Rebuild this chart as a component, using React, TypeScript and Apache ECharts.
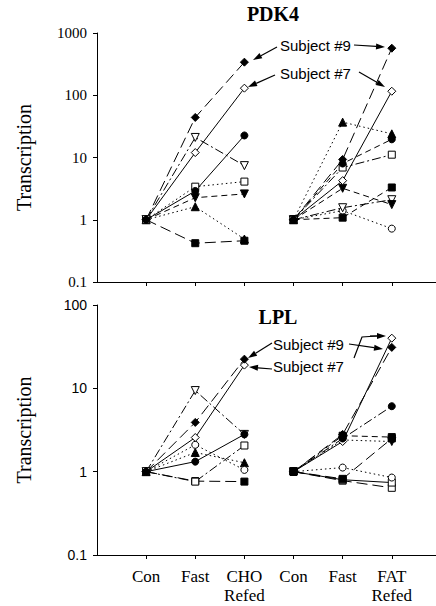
import React, { useEffect, useRef } from "react";
import * as echarts from "echarts";

// Category tick labels (x positions 1..6)
const CATEGORIES = ["Con", "Fast", "CHO\nRefed", "Con", "Fast", "FAT\nRefed"];
const Y_TICKS_PDK4 = [0.1, 1, 10, 100, 1000];
const Y_TICKS_LPL = [0.1, 1, 10, 100];

// PDK4 – CHO trial (Con, Fast, CHO Refed)
const pdk4Cho_s9 = [1, 44, 340];
const pdk4Cho_s7 = [1, 12, 130];
const pdk4Cho_fCircle = [1, 2.9, 22.6];
const pdk4Cho_oTriDown = [1, 21, 7.4];
const pdk4Cho_oSquare = [1, 3.4, 4.1];
const pdk4Cho_fTriDown = [1, 2.26, 2.6];
const pdk4Cho_fTri = [1, 1.62, 0.49];
const pdk4Cho_fSquare = [1, 0.42, 0.46];

// PDK4 – FAT trial (Con, Fast, FAT Refed)
const pdk4Fat_s9 = [1, 9.3, 570];
const pdk4Fat_s7 = [1, 4.25, 116];
const pdk4Fat_fTri = [1, 37, 24];
const pdk4Fat_fCircle = [1, 8.0, 19.6];
const pdk4Fat_oSquare = [1, 6.9, 11.1];
const pdk4Fat_fTriDown = [1, 3.2, 1.75];
const pdk4Fat_fSquare = [1, 1.08, 3.3];
const pdk4Fat_oTriDown = [1, 1.56, 2.1];
const pdk4Fat_oCircle = [1, 1.4, 0.72];

// LPL – CHO trial
const lplCho_s9 = [1, 3.9, 22.4];
const lplCho_s7 = [1, 2.57, 19];
const lplCho_oTriDown = [1, 9.4, 2.8];
const lplCho_oCircle = [1, 2.1, 1.05];
const lplCho_fTri = [1, 1.7, 1.28];
const lplCho_fCircle = [1, 1.32, 2.8];
const lplCho_oSquare = [1, 0.76, 2.06];
const lplCho_fSquare = [1, 0.77, 0.76];

// LPL – FAT trial
const lplFat_s9 = [1, 2.8, 31];
const lplFat_s7 = [1, 2.3, 40];
const lplFat_fCircle = [1, 2.5, 6.1];
const lplFat_fSquare = [1, 2.7, 2.6];
const lplFat_fTriDown = [1, 2.4, 2.3];
const lplFat_oCircle = [1, 1.12, 0.85];
const lplFat_oSquare = [1, 0.8, 0.74];
const lplFat_oSquare2 = [1, 0.78, 0.64];
const lplFat_fSquare2 = [1, 0.82, 2.5];

const SERIF = '"Liberation Serif", "Times New Roman", serif';
const SANS = '"Liberation Sans", Arial, sans-serif';

const DASH = {
  solid: "solid" as any,
  long: [11, 5],
  dash: [6, 4],
  dot: [1.5, 3],
  dashdot: [9, 3, 2, 3],
};

type Mk = { symbol: string; filled: boolean; rotate?: number; size: number };
const MK: Record<string, Mk> = {
  fDiamond: { symbol: "diamond", filled: true, size: 8 },
  oDiamond: { symbol: "diamond", filled: false, size: 8 },
  fCircle: { symbol: "circle", filled: true, size: 7 },
  oCircle: { symbol: "circle", filled: false, size: 7 },
  fSquare: { symbol: "rect", filled: true, size: 7 },
  oSquare: { symbol: "rect", filled: false, size: 7 },
  fTri: { symbol: "triangle", filled: true, size: 8 },
  fTriDown: { symbol: "triangle", filled: true, rotate: 180, size: 8 },
  oTriDown: { symbol: "triangle", filled: false, rotate: 180, size: 8 },
};

function mk(values: number[], xStart: number, grid: number, marker: Mk, dash: any) {
  return {
    type: "line",
    xAxisIndex: grid,
    yAxisIndex: grid,
    data: values.map((v, i) => [xStart + i, v]),
    symbol: marker.symbol,
    symbolSize: marker.size,
    symbolRotate: marker.rotate || 0,
    showSymbol: true,
    lineStyle: { color: "#000", width: 1, type: dash },
    itemStyle: {
      color: marker.filled ? "#000" : "#fff",
      borderColor: "#000",
      borderWidth: 1,
    },
    emphasis: { disabled: true },
    silent: true,
  };
}

function arrow(x1: number, y1: number, x2: number, y2: number) {
  const a = Math.atan2(y2 - y1, x2 - x1);
  const L = 9;
  const w = 3;
  const bx = x2 - L * Math.cos(a);
  const by = y2 - L * Math.sin(a);
  return [
    {
      type: "line",
      shape: { x1, y1, x2: bx, y2: by },
      style: { stroke: "#000", lineWidth: 1.2 },
    },
    {
      type: "polygon",
      shape: {
        points: [
          [x2, y2],
          [bx + w * Math.sin(a), by - w * Math.cos(a)],
          [bx - w * Math.sin(a), by + w * Math.cos(a)],
        ],
      },
      style: { fill: "#000" },
    },
  ];
}

function label(text: string, x: number, y: number, font: string, align = "left") {
  return {
    type: "text",
    x,
    y,
    style: { text, fill: "#000", font, align, verticalAlign: "middle" },
  };
}

export default function App() {
  const ref = useRef<HTMLDivElement>(null);
  useEffect(() => {
    if (!ref.current) return;
    const chart = echarts.init(ref.current, null, { renderer: "svg" });

    const fmt = (v: number) => String(parseFloat(Number(v).toPrecision(3)));

    const xAxisBase = (grid: number, showLabels: boolean) => ({
      type: "value",
      gridIndex: grid,
      min: 0,
      max: 6.9,
      interval: 1,
      axisLine: { show: true, lineStyle: { color: "#000", width: 1 } },
      axisTick: {
        show: true,
        length: 4,
        lineStyle: { color: "#000" },
        customValues: [1, 2, 3, 4, 5, 6],
      },
      axisLabel: {
        show: showLabels,
        customValues: [1, 2, 3, 4, 5, 6],
        formatter: (v: number) => CATEGORIES[Math.round(v) - 1] || "",
        fontFamily: SERIF,
        fontSize: 17,
        lineHeight: 19,
        color: "#000",
        margin: 12,
      },
      splitLine: { show: false },
    });

    const yAxisBase = (grid: number, ticks: number[], font: string, size: number) => ({
      type: "log",
      logBase: 10,
      gridIndex: grid,
      min: ticks[0],
      max: ticks[ticks.length - 1],
      name: "Transcription",
      nameLocation: "middle",
      nameGap: 63,
      nameTextStyle: { fontFamily: SERIF, fontSize: 20, color: "#000" },
      axisLine: { show: true, lineStyle: { color: "#000", width: 1 } },
      axisTick: { show: true, length: 4, lineStyle: { color: "#000" } },
      axisLabel: {
        formatter: fmt,
        fontFamily: font,
        fontSize: size,
        color: "#000",
        margin: 10,
      },
      splitLine: { show: false },
    });

    const series: any[] = [
      // PDK4 CHO
      mk(pdk4Cho_fSquare, 1, 0, MK.fSquare, DASH.long),
      mk(pdk4Cho_fTri, 1, 0, MK.fTri, DASH.dot),
      mk(pdk4Cho_fTriDown, 1, 0, MK.fTriDown, DASH.dash),
      mk(pdk4Cho_oSquare, 1, 0, MK.oSquare, DASH.dot),
      mk(pdk4Cho_oTriDown, 1, 0, MK.oTriDown, DASH.dashdot),
      mk(pdk4Cho_s7, 1, 0, MK.oDiamond, DASH.solid),
      mk(pdk4Cho_fCircle, 1, 0, MK.fCircle, DASH.solid),
      mk(pdk4Cho_s9, 1, 0, MK.fDiamond, DASH.long),
      // PDK4 FAT
      mk(pdk4Fat_oCircle, 4, 0, MK.oCircle, DASH.dot),
      mk(pdk4Fat_oTriDown, 4, 0, MK.oTriDown, DASH.dashdot),
      mk(pdk4Fat_fSquare, 4, 0, MK.fSquare, DASH.dash),
      mk(pdk4Fat_fTriDown, 4, 0, MK.fTriDown, DASH.dash),
      mk(pdk4Fat_oSquare, 4, 0, MK.oSquare, DASH.dashdot),
      mk(pdk4Fat_s7, 4, 0, MK.oDiamond, DASH.solid),
      mk(pdk4Fat_fCircle, 4, 0, MK.fCircle, DASH.dash),
      mk(pdk4Fat_fTri, 4, 0, MK.fTri, DASH.dot),
      mk(pdk4Fat_s9, 4, 0, MK.fDiamond, DASH.long),
      // LPL CHO
      mk(lplCho_fSquare, 1, 1, MK.fSquare, DASH.long),
      mk(lplCho_oSquare, 1, 1, MK.oSquare, DASH.dashdot),
      mk(lplCho_fTri, 1, 1, MK.fTri, DASH.dot),
      mk(lplCho_oCircle, 1, 1, MK.oCircle, DASH.dot),
      mk(lplCho_oTriDown, 1, 1, MK.oTriDown, DASH.dashdot),
      mk(lplCho_s7, 1, 1, MK.oDiamond, DASH.solid),
      mk(lplCho_fCircle, 1, 1, MK.fCircle, DASH.solid),
      mk(lplCho_s9, 1, 1, MK.fDiamond, DASH.long),
      // LPL FAT
      mk(lplFat_oSquare2, 4, 1, MK.oSquare, DASH.long),
      mk(lplFat_oSquare, 4, 1, MK.oSquare, DASH.solid),
      mk(lplFat_oCircle, 4, 1, MK.oCircle, DASH.dot),
      mk(lplFat_fSquare2, 4, 1, MK.fSquare, DASH.long),
      mk(lplFat_fTriDown, 4, 1, MK.fTriDown, DASH.dot),
      mk(lplFat_fSquare, 4, 1, MK.fSquare, DASH.dash),
      mk(lplFat_s7, 4, 1, MK.oDiamond, DASH.solid),
      mk(lplFat_fCircle, 4, 1, MK.fCircle, DASH.dashdot),
      mk(lplFat_s9, 4, 1, MK.fDiamond, DASH.long),
    ];

    const bentArrow = [
      {
        type: "polyline",
        shape: { points: [[354, 358], [362, 337], [377, 336]] },
        style: { stroke: "#000", lineWidth: 1.2, fill: null },
      },
      ...arrow(370, 336, 386, 336),
    ];

    chart.setOption({
      animation: false,
      backgroundColor: "#fff",
      grid: [
        { left: 97, top: 33, width: 339, height: 249 },
        { left: 97, top: 305, width: 339, height: 250 },
      ],
      xAxis: [xAxisBase(0, false), xAxisBase(1, true)],
      yAxis: [
        yAxisBase(0, Y_TICKS_PDK4, SERIF, 15),
        yAxisBase(1, Y_TICKS_LPL, SANS, 14),
      ],
      series,
      graphic: [
        label("PDK4", 273, 14, `bold 20px ${SERIF}`, "center"),
        label("LPL", 278, 317, `bold 20px ${SERIF}`, "center"),
        label("Subject #9", 280, 45, `15px ${SANS}`),
        label("Subject #7", 280, 73, `15px ${SANS}`),
        label("Subject #9", 273, 344, `15px ${SANS}`),
        label("Subject #7", 273, 366, `15px ${SANS}`),
        ...arrow(277, 47, 253, 60),
        ...arrow(354, 45, 385, 47),
        ...arrow(275, 75, 248, 87),
        ...arrow(359, 72, 385, 87),
        ...arrow(272, 343, 248, 358),
        ...arrow(272, 369, 249, 367),
        ...arrow(349, 344, 383, 349),
        ...bentArrow,
      ],
    });
    return () => chart.dispose();
  }, []);
  return (
    <div
      ref={ref}
      style={{ position: "absolute", left: 0, top: 0, width: 436, height: 606 }}
    />
  );
}
